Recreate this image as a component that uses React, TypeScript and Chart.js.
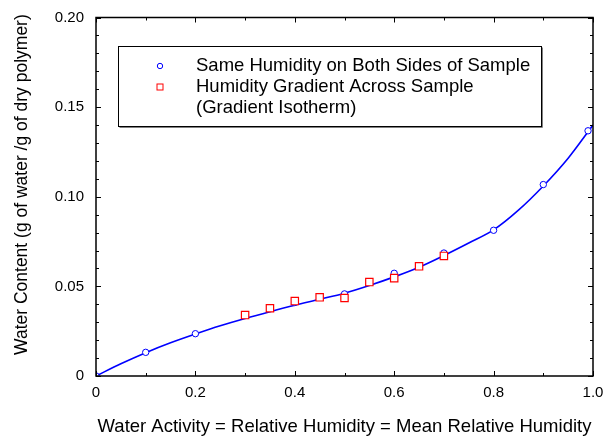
import React, { useEffect, useRef } from 'react';
import { Chart, registerables } from 'chart.js';

Chart.register(...registerables);

// Fitted isotherm curve
const curveX = [0, 0.05, 0.1, 0.15, 0.2, 0.25, 0.3, 0.35, 0.4, 0.45, 0.5, 0.55, 0.6, 0.65, 0.7, 0.75, 0.8, 0.85, 0.9, 0.95, 1.0];
const curveY = [0, 0.0068, 0.0130, 0.0185, 0.0234, 0.0280, 0.0321, 0.0359, 0.0395, 0.0428, 0.0462, 0.0505, 0.0553, 0.0607, 0.0672, 0.0742, 0.0815, 0.0925, 0.1060, 0.1215, 0.1400];

// Same Humidity on Both Sides of Sample (circles)
const sameX = [0, 0.1, 0.2, 0.4, 0.5, 0.6, 0.7, 0.8, 0.9, 0.99];
const sameY = [0, 0.0132, 0.0236, 0.0410, 0.0458, 0.0573, 0.0686, 0.0813, 0.1068, 0.1368];

// Humidity Gradient Across Sample (squares)
const gradX = [0.3, 0.35, 0.4, 0.45, 0.5, 0.55, 0.6, 0.65, 0.7];
const gradY = [0.0340, 0.0378, 0.0418, 0.0439, 0.0435, 0.0524, 0.0546, 0.0612, 0.0670];

// Axis ticks
const xTickValues = [0, 0.2, 0.4, 0.6, 0.8, 1.0];
const xTickLabels = ['0', '0.2', '0.4', '0.6', '0.8', '1.0'];
const yTickValues = [0, 0.05, 0.1, 0.15, 0.2];
const yTickLabels = ['0', '0.05', '0.10', '0.15', '0.20'];
const xMinorDiv = 2;
const yMinorDiv = 5;

const legendLabels = ['Same Humidity on Both Sides of Sample', 'Humidity Gradient Across Sample', '(Gradient Isotherm)'];
const xTitle = 'Water Activity = Relative Humidity = Mean Relative Humidity';
const yTitle = 'Water Content (g of water /g of dry polymer)';

const FONT = '"Liberation Sans", Arial, Helvetica, sans-serif';
const BLUE = '#0000ff';
const RED = '#ff0000';

const toPts = (xs: number[], ys: number[]) => xs.map((x, i) => ({ x, y: ys[i] }));

const zeroPadding = (scale: any) => {
  scale.paddingTop = 0;
  scale.paddingBottom = 0;
  scale.paddingLeft = 0;
  scale.paddingRight = 0;
};

const frameTicksPlugin = {
  id: 'frameTicks',
  afterDraw(chart: any) {
    const { ctx, chartArea } = chart;
    const xs = chart.scales.x;
    const ys = chart.scales.y;
    const { left, right, top, bottom } = chartArea;
    ctx.save();
    ctx.strokeStyle = '#000';
    ctx.lineWidth = 1;
    const majorLen = 5;
    const minorLen = 3;
    ctx.beginPath();
    for (let i = 0; i < xTickValues.length; i++) {
      const v = xTickValues[i];
      const px = Math.round(xs.getPixelForValue(v)) + 0.5;
      ctx.moveTo(px, bottom); ctx.lineTo(px, bottom - majorLen);
      ctx.moveTo(px, top); ctx.lineTo(px, top + majorLen);
      if (i < xTickValues.length - 1) {
        const step = (xTickValues[i + 1] - v) / xMinorDiv;
        for (let k = 1; k < xMinorDiv; k++) {
          const mx = Math.round(xs.getPixelForValue(v + k * step)) + 0.5;
          ctx.moveTo(mx, bottom); ctx.lineTo(mx, bottom - minorLen);
          ctx.moveTo(mx, top); ctx.lineTo(mx, top + minorLen);
        }
      }
    }
    for (let i = 0; i < yTickValues.length; i++) {
      const v = yTickValues[i];
      const py = Math.round(ys.getPixelForValue(v)) + 0.5;
      ctx.moveTo(left, py); ctx.lineTo(left + majorLen, py);
      ctx.moveTo(right, py); ctx.lineTo(right - majorLen, py);
      if (i < yTickValues.length - 1) {
        const step = (yTickValues[i + 1] - v) / yMinorDiv;
        for (let k = 1; k < yMinorDiv; k++) {
          const my = Math.round(ys.getPixelForValue(v + k * step)) + 0.5;
          ctx.moveTo(left, my); ctx.lineTo(left + minorLen, my);
          ctx.moveTo(right, my); ctx.lineTo(right - minorLen, my);
        }
      }
    }
    ctx.stroke();
    ctx.lineWidth = 1.5;
    ctx.strokeRect(left, top, right - left, bottom - top);
    ctx.restore();
  },
};

const legendBoxPlugin = {
  id: 'legendBox',
  afterDraw(chart: any) {
    const { ctx } = chart;
    const bx = 118.5, by = 46.5, bw = 423, bh = 80;
    ctx.save();
    ctx.fillStyle = '#ffffff';
    ctx.fillRect(bx, by, bw, bh);
    ctx.strokeStyle = '#808080';
    ctx.lineWidth = 1;
    ctx.beginPath();
    ctx.moveTo(bx + bw + 1, by + 1); ctx.lineTo(bx + bw + 1, by + bh + 1); ctx.lineTo(bx + 1, by + bh + 1);
    ctx.stroke();
    ctx.strokeStyle = '#000';
    ctx.strokeRect(bx, by, bw, bh);
    const mx = 160;
    ctx.lineWidth = 1;
    ctx.strokeStyle = BLUE;
    ctx.beginPath();
    ctx.arc(mx, 66, 2.7, 0, Math.PI * 2);
    ctx.stroke();
    ctx.strokeStyle = RED;
    ctx.strokeRect(mx - 3, 87 - 3, 6, 6);
    ctx.fillStyle = '#000';
    ctx.font = `18.5px ${FONT}`;
    ctx.textBaseline = 'middle';
    ctx.textAlign = 'left';
    const tx = 196;
    ctx.fillText(legendLabels[0], tx, 66);
    ctx.fillText(legendLabels[1], tx, 87);
    ctx.fillText(legendLabels[2], tx, 108);
    ctx.restore();
  },
};

export default function App() {
  const canvasRef = useRef<HTMLCanvasElement | null>(null);

  useEffect(() => {
    const canvas = canvasRef.current;
    if (!canvas) return;
    const chart = new Chart(canvas, {
      type: 'scatter',
      data: {
        datasets: [
          {
            label: legendLabels[1],
            data: toPts(gradX, gradY),
            pointStyle: 'rect',
            pointRadius: 5.2,
            pointBorderWidth: 1.2,
            borderColor: RED,
            backgroundColor: '#ffffff',
            showLine: false,
          },
          {
            label: legendLabels[0],
            data: toPts(sameX, sameY),
            pointStyle: 'circle',
            pointRadius: 3.2,
            pointBorderWidth: 1,
            borderColor: BLUE,
            backgroundColor: '#ffffff',
            showLine: false,
          },
          {
            label: 'fit',
            data: toPts(curveX, curveY),
            showLine: true,
            pointRadius: 0,
            borderColor: BLUE,
            borderWidth: 1.6,
            cubicInterpolationMode: 'monotone',
            fill: false,
          },
        ],
      },
      options: {
        animation: false,
        responsive: false,
        devicePixelRatio: 1,
        layout: { padding: { top: 17.5, right: 15, left: 0, bottom: 0 } },
        plugins: {
          legend: { display: false },
          tooltip: { enabled: false },
        },
        scales: {
          x: {
            type: 'linear',
            min: 0,
            max: 1,
            afterBuildTicks: (scale: any) => {
              scale.ticks = xTickValues.map((v) => ({ value: v }));
            },
            afterFit: (scale: any) => {
              scale.height = 62;
              zeroPadding(scale);
            },
            grid: { display: false, drawTicks: false },
            border: { display: false },
            ticks: {
              autoSkip: false,
              maxRotation: 0,
              padding: 8,
              color: '#000',
              font: { family: FONT, size: 15 },
              callback: (_v: any, i: number) => xTickLabels[i],
            },
            title: {
              display: true,
              text: xTitle,
              color: '#000',
              font: { family: FONT, size: 18.5 },
              padding: { top: 0, bottom: 0 },
            },
          },
          y: {
            type: 'linear',
            min: 0,
            max: 0.2,
            afterBuildTicks: (scale: any) => {
              scale.ticks = yTickValues.map((v) => ({ value: v }));
            },
            afterFit: (scale: any) => {
              scale.width = 96;
              zeroPadding(scale);
            },
            grid: { display: false, drawTicks: false },
            border: { display: false },
            ticks: {
              autoSkip: false,
              padding: 12,
              color: '#000',
              font: { family: FONT, size: 15 },
              callback: (_v: any, i: number) => yTickLabels[i],
            },
            title: {
              display: true,
              text: '     ' + yTitle,
              color: '#000',
              font: { family: FONT, size: 17.5 },
              padding: { top: 12, bottom: 0 },
            },
          },
        },
      },
      plugins: [frameTicksPlugin, legendBoxPlugin],
    } as any);
    return () => chart.destroy();
  }, []);

  return (
    <div style={{ position: 'absolute', left: 0, top: 0, width: 608, height: 438, background: '#fff' }}>
      <canvas ref={canvasRef} width={608} height={438} style={{ width: 608, height: 438, display: 'block' }} />
    </div>
  );
}
